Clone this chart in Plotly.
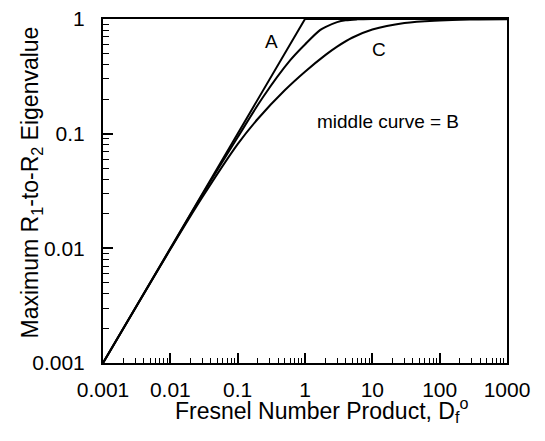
import plotly.graph_objects as go

# Data
x_A = [0.001, 1, 1000]
y_A = [0.001, 1, 1]

x_B = [0.001, 0.01, 0.03, 0.1, 0.24, 0.6, 1, 1.67, 2, 3, 4, 6, 10, 1000]
y_B = [0.001, 0.0099, 0.0295, 0.093, 0.21, 0.435, 0.6, 0.80, 0.85, 0.94, 0.975, 0.993, 1.0, 1.0]

x_C = [0.001, 0.01, 0.03, 0.1, 0.2, 0.5, 1, 2, 3, 5, 10, 30, 100, 300, 1000]
y_C = [0.001, 0.0098, 0.028, 0.081, 0.135, 0.239, 0.347, 0.484, 0.574, 0.686, 0.81, 0.924, 0.972, 0.99, 0.996]

x_ticks = [0.001, 0.01, 0.1, 1, 10, 100, 1000]
x_tick_labels = ["0.001", "0.01", "0.1", "1", "10", "100", "1000"]
y_ticks = [0.001, 0.01, 0.1, 1]
y_tick_labels = ["0.001", "0.01", "0.1", "1"]

x_minor = [m * 10**e for e in range(-3, 3) for m in range(2, 10)]
y_minor = [m * 10**e for e in range(-3, 0) for m in range(2, 10)]

FONT = "Liberation Sans, Arial, Helvetica, sans-serif"

fig = go.Figure()
fig.add_trace(go.Scatter(x=x_A, y=y_A, mode="lines", line=dict(color="black", width=2)))
fig.add_trace(go.Scatter(x=x_B, y=y_B, mode="lines", line=dict(color="black", width=2, shape="spline", smoothing=1)))
fig.add_trace(go.Scatter(x=x_C, y=y_C, mode="lines", line=dict(color="black", width=2, shape="spline", smoothing=1)))

fig.add_annotation(x=-0.495, y=-0.198, xref="x", yref="y", text="A", showarrow=False,
                   font=dict(size=19, color="black", family=FONT))
fig.add_annotation(x=1.10, y=-0.27, xref="x", yref="y", text="C", showarrow=False,
                   font=dict(size=19, color="black", family=FONT))
fig.add_annotation(x=1.233, y=-0.896, xref="x", yref="y", text="middle curve = B", showarrow=False,
                   font=dict(size=19, color="black", family=FONT))

# Axis titles as annotations for precise placement
fig.add_annotation(x=0.541, y=-0.137, xref="paper", yref="paper", xanchor="center", yanchor="middle",
                   text="Fresnel Number Product, D<sub>f</sub><sup>o</sup>", showarrow=False,
                   font=dict(size=23, color="black", family=FONT))
fig.add_annotation(x=-0.178, y=0.525, xref="paper", yref="paper", xanchor="center", yanchor="middle",
                   text="Maximum R<sub>1</sub>-to-R<sub>2</sub> Eigenvalue", showarrow=False, textangle=-90,
                   font=dict(size=23, color="black", family=FONT))

axis_common = dict(
    type="log", showgrid=False, zeroline=False, automargin=False,
    showline=True, linecolor="black", linewidth=2, mirror=True,
    ticks="inside", ticklen=10, tickwidth=1.5, tickcolor="black",
    tickfont=dict(size=21, color="black", family=FONT),
    ticklabeloverflow="allow",
)

fig.update_xaxes(
    **axis_common,
    range=[-3, 3],
    tickvals=x_ticks, ticktext=x_tick_labels,
    minor=dict(tickvals=x_minor, ticks="inside", ticklen=5, tickwidth=1.2, tickcolor="black", showgrid=False),
    ticklabelstandoff=7,
)
fig.update_yaxes(
    **axis_common,
    range=[-3, 0],
    tickvals=y_ticks, ticktext=y_tick_labels,
    minor=dict(tickvals=y_minor, ticks="inside", ticklen=6, tickwidth=1.2, tickcolor="black", showgrid=False),
    ticklabelstandoff=12,
)

# The page body adds an 8 px offset, so the figure is sized to fit the window
fig.update_layout(
    width=537, height=433,
    margin=dict(l=95, r=38, t=11, b=78),
    paper_bgcolor="white", plot_bgcolor="white",
    showlegend=False,
)

fig.write_html("out.html")
